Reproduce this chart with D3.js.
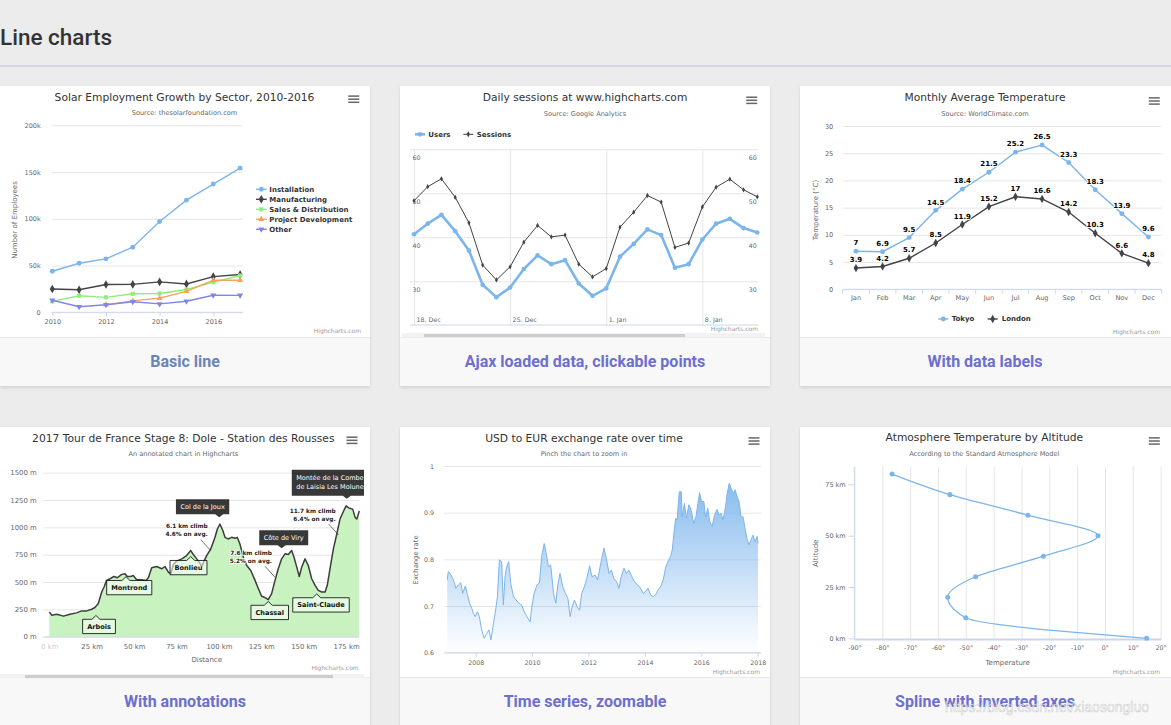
<!DOCTYPE html>
<html>
<head>
<meta charset="utf-8">
<title>Line charts</title>
<script src="https://cdn.jsdelivr.net/npm/d3@7"></script>
<style>
  body { margin: 0; background: #ececec; overflow: hidden; }
  svg { display: block; font-family: "DejaVu Sans", sans-serif; }
</style>
</head>
<body>
<svg id="page" width="1171" height="725"></svg>
<script>
// ---- basic line
const solarYears = [2010, 2011, 2012, 2013, 2014, 2015, 2016, 2017];
const sectorNames = ["Installation", "Manufacturing", "Sales & Distribution", "Project Development", "Other"];
const installation = [43934, 52503, 57177, 69658, 97031, 119931, 137133, 154175];
const manufacturing = [24916, 24064, 29742, 29851, 32490, 30282, 38121, 40434];
const salesDistribution = [11744, 17722, 16005, 19771, 20185, 24377, 32147, 39387];
const projectDevelopment = [null, null, 7988, 12169, 15112, 22452, 34400, 34227];
const otherSector = [12908, 5948, 8105, 11248, 8989, 11816, 18274, 18111];
const solarTicks = [0, 50000, 100000, 150000, 200000];
const solarYearTicks = [2010, 2012, 2014, 2016];

// ---- ajax loaded data
const sessionDates = ["2017-12-18", "2017-12-19", "2017-12-20", "2017-12-21", "2017-12-22", "2017-12-23",
  "2017-12-24", "2017-12-25", "2017-12-26", "2017-12-27", "2017-12-28", "2017-12-29", "2017-12-30",
  "2017-12-31", "2018-01-01", "2018-01-02", "2018-01-03", "2018-01-04", "2018-01-05", "2018-01-06",
  "2018-01-07", "2018-01-08", "2018-01-09", "2018-01-10", "2018-01-11", "2018-01-12"];
const users = [40.7, 43.1, 45.1, 41.4, 37.0, 29.2, 26.4, 28.6, 32.8, 35.9, 33.9, 34.8, 29.5,
  26.7, 28.4, 35.6, 38.5, 41.8, 40.5, 33.1, 33.9, 39.5, 43.1, 44.2, 42.1, 41.1];
const sessions = [48.3, 51.5, 53.3, 49.1, 43.3, 33.7, 30.3, 33.3, 38.9, 42.7, 40.1, 40.5, 33.9,
  31.0, 32.9, 42.3, 45.7, 49.5, 48.0, 37.7, 38.7, 46.9, 51.4, 53.2, 50.8, 49.2];
const sessionTicks = [30, 40, 50, 60];
const weekTicks = ["2017-12-18", "2017-12-25", "2018-01-01", "2018-01-08"];

// ---- with data labels
const months = ["Jan", "Feb", "Mar", "Apr", "May", "Jun", "Jul", "Aug", "Sep", "Oct", "Nov", "Dec"];
const tokyo = [7.0, 6.9, 9.5, 14.5, 18.4, 21.5, 25.2, 26.5, 23.3, 18.3, 13.9, 9.6];
const london = [3.9, 4.2, 5.7, 8.5, 11.9, 15.2, 17.0, 16.6, 14.2, 10.3, 6.6, 4.8];
const tempTicks = [0, 5, 10, 15, 20, 25, 30];

// ---- with annotations
const stageKm = [0, 1.4, 4.4, 8.3, 12.2, 16.1, 19.1, 22.0, 25.0, 26.9, 28.9, 30.9, 32.3, 33.8, 35.8,
  38.1, 40.1, 42.7, 44.6, 46.0, 48.0, 49.5, 51.5, 54.5, 57.0, 58.4, 60.4, 63.3, 66.3, 68.2, 70.2,
  71.6, 73.1, 75.1, 78.1, 81.0, 83.4, 84.9, 86.9, 88.4, 89.9, 91.2, 92.8, 95.2, 97.7, 99.1, 100.6,
  102.2, 103.6, 105.5, 107.5, 109.5, 110.8, 112.4, 114.4, 116.4, 118.8, 121.3, 123.3, 125.2, 127.2,
  129.1, 131.1, 133.1, 135.0, 137.0, 139.0, 140.9, 142.9, 144.3, 145.9, 147.4, 148.8, 150.8, 152.7,
  154.7, 156.7, 158.6, 160.6, 162.6, 163.9, 165.5, 167.5, 169.5, 171.4, 173.4, 175.0, 176.9, 178.9,
  180.3, 181.3, 182.8];
const stageElevation = [227, 197, 206, 188, 206, 218, 236, 236, 251, 267, 303, 409, 455, 515, 530,
  551, 539, 570, 576, 551, 551, 560, 521, 521, 515, 539, 630, 642, 621, 642, 591, 576, 661, 691,
  712, 742, 788, 752, 712, 682, 642, 691, 742, 803, 909, 985, 1030, 976, 909, 894, 909, 900, 909,
  848, 727, 651, 606, 515, 439, 370, 358, 339, 394, 515, 621, 712, 758, 752, 788, 727, 636, 551,
  636, 712, 651, 530, 470, 424, 409, 409, 470, 621, 803, 939, 1076, 1145, 1197, 1175, 1167, 1091,
  1076, 1151];
const elevationTicks = [0, 250, 500, 750, 1000, 1250, 1500];
const distanceTicks = [0, 25, 50, 75, 100, 125, 150, 175];
const townNames = ["Arbois", "Montrond", "Bonlieu", "Chassal", "Saint-Claude"];
const townKm = [27.5, 45.2, 83.4, 129.1, 157.7];
const townElevation = [194, 549, 732, 322, 391];
const peakNames = [["Col de la Joux"], ["Côte de Viry"], ["Montée de la Combe", "de Laisia Les Molunes"]];
const peakKm = [100.2, 137.0, 175.4];
const peakElevation = [1092, 809, 1262];
const climbTexts = [["6.1 km climb", "4.6% on avg."], ["7.6 km climb", "5.2% on avg."], ["11.7 km climb", "6.4% on avg."]];
const climbKm = [95.2, 133.1, 170.6];
const climbElevation = [787, 543, 930];

// ---- time series, zoomable
const fxYear = [2006.99, 2007.03, 2007.09, 2007.21, 2007.30, 2007.38, 2007.47, 2007.54, 2007.63, 2007.70,
  2007.78, 2007.86, 2007.92, 2007.98, 2008.06, 2008.13, 2008.21, 2008.30, 2008.39, 2008.47, 2008.54,
  2008.63, 2008.69, 2008.77, 2008.84, 2008.92, 2008.98, 2009.04, 2009.10, 2009.17, 2009.24, 2009.34,
  2009.43, 2009.53, 2009.63, 2009.75, 2009.85, 2009.93, 2009.99, 2010.07, 2010.17, 2010.26, 2010.34,
  2010.43, 2010.50, 2010.58, 2010.66, 2010.76, 2010.84, 2010.91, 2010.99, 2011.09, 2011.18, 2011.27,
  2011.35, 2011.42, 2011.50, 2011.59, 2011.68, 2011.76, 2011.85, 2011.94, 2012.04, 2012.12, 2012.24,
  2012.32, 2012.41, 2012.55, 2012.64, 2012.73, 2012.81, 2012.90, 2013.00, 2013.08, 2013.16, 2013.26,
  2013.35, 2013.43, 2013.52, 2013.59, 2013.67, 2013.75, 2013.85, 2013.94, 2014.02, 2014.11, 2014.20,
  2014.29, 2014.38, 2014.46, 2014.55, 2014.65, 2014.73, 2014.81, 2014.91, 2014.97, 2015.03, 2015.09,
  2015.14, 2015.22, 2015.29, 2015.32, 2015.40, 2015.47, 2015.56, 2015.64, 2015.73, 2015.81, 2015.88,
  2015.94, 2016.01, 2016.09, 2016.15, 2016.23, 2016.30, 2016.38, 2016.47, 2016.56, 2016.63, 2016.70,
  2016.77, 2016.86, 2016.91, 2016.99, 2017.06, 2017.13, 2017.20, 2017.27, 2017.34, 2017.41, 2017.48,
  2017.56, 2017.62, 2017.69, 2017.76, 2017.83, 2017.91, 2017.98, 2018.01];
const fxRate = [0.756, 0.774, 0.770, 0.756, 0.738, 0.745, 0.750, 0.727, 0.743, 0.727,
  0.706, 0.695, 0.684, 0.677, 0.688, 0.677, 0.649, 0.631, 0.641, 0.649, 0.627,
  0.663, 0.684, 0.720, 0.799, 0.795, 0.702, 0.763, 0.784, 0.795, 0.749, 0.720,
  0.713, 0.706, 0.702, 0.684, 0.674, 0.666, 0.699, 0.727, 0.745, 0.749, 0.806,
  0.834, 0.813, 0.784, 0.788, 0.727, 0.706, 0.745, 0.770, 0.741, 0.727, 0.716,
  0.677, 0.699, 0.713, 0.699, 0.691, 0.727, 0.741, 0.759, 0.786, 0.763, 0.766,
  0.756, 0.784, 0.824, 0.799, 0.770, 0.777, 0.759, 0.752, 0.738, 0.763, 0.781,
  0.770, 0.777, 0.766, 0.756, 0.749, 0.745, 0.738, 0.727, 0.731, 0.738, 0.724,
  0.720, 0.724, 0.734, 0.741, 0.756, 0.781, 0.795, 0.806, 0.820, 0.856, 0.888,
  0.884, 0.945, 0.945, 0.891, 0.920, 0.888, 0.917, 0.906, 0.877, 0.891, 0.920,
  0.943, 0.924, 0.924, 0.891, 0.909, 0.881, 0.870, 0.895, 0.907, 0.895, 0.899,
  0.884, 0.913, 0.938, 0.963, 0.952, 0.941, 0.949, 0.934, 0.924, 0.891, 0.891,
  0.863, 0.845, 0.831, 0.841, 0.852, 0.838, 0.849, 0.834];
const fxTicks = [0.6, 0.7, 0.8, 0.9, 1];
const fxYearTicks = [2008, 2010, 2012, 2014, 2016, 2018];

// ---- spline with inverted axes
const altitudes = [0, 10, 20, 30, 40, 50, 60, 70, 80];
const airTemps = [15, -50, -56.5, -46.5, -22.1, -2.5, -27.7, -55.7, -76.5];
const altitudeTicks = [0, 25, 50, 75];
const airTempTicks = [-90, -80, -70, -60, -50, -40, -30, -20, -10, 0, 10, 20];

const cardLabels = ["Basic line", "Ajax loaded data, clickable points", "With data labels",
  "With annotations", "Time series, zoomable", "Spline with inverted axes"];

const hcColors = ["#7cb5ec", "#434348", "#90ed7d", "#f7a35c", "#8085e9"];

var page = d3.select("#page");
var defs = page.append("defs");

defs.append("filter").attr("id", "cardShadow")
    .attr("x", "-5%").attr("y", "-5%").attr("width", "110%").attr("height", "115%")
  .append("feDropShadow")
    .attr("dx", 0).attr("dy", 1.5).attr("stdDeviation", 1.8)
    .attr("flood-color", "#000").attr("flood-opacity", 0.13);

function txt(g, x, y, s, size, fill, anchor, weight) {
  return g.append("text")
      .attr("x", x).attr("y", y).attr("dy", "0.35em")
      .attr("font-size", size).attr("fill", fill)
      .attr("text-anchor", anchor || "start")
      .attr("font-weight", weight || "normal")
      .text(s);
}

function heading(cx, cy, title, subtitle) {
  txt(page, cx, cy, title, 10.7, "#333", "middle");
  txt(page, cx, cy + 15.5, subtitle, 6.6, "#666", "middle");
}

function menu(cx, cy) {
  [-3.1, 0, 3.1].forEach(function(o) {
    page.append("line")
        .attr("x1", cx - 5.5).attr("x2", cx + 5.5)
        .attr("y1", cy + o).attr("y2", cy + o)
        .attr("stroke", "#666").attr("stroke-width", 1.5);
  });
}

function credit(xr, cy) {
  txt(page, xr, cy, "Highcharts.com", 6, "#999", "end");
}

function styleAxis(g, size) {
  g.attr("font-family", "DejaVu Sans, sans-serif").attr("font-size", size);
  g.selectAll(".tick text").attr("fill", "#666");
  g.select(".domain").remove();
}

function marker(g, type, x, y, size, color, flip) {
  g.append("path")
      .attr("d", d3.symbol().type(type).size(size)())
      .attr("transform", "translate(" + x + "," + y + ")" + (flip ? " rotate(180)" : ""))
      .attr("fill", color);
}

function hline(g, x0, x1, y, color, w) {
  g.append("line").attr("x1", x0).attr("x2", x1).attr("y1", y).attr("y2", y)
      .attr("stroke", color).attr("stroke-width", w || 1);
}

// ---- page header and cards
page.append("text")
    .attr("x", 0).attr("y", 45)
    .attr("font-family", "Roboto").attr("font-weight", 500).attr("font-size", 22.5)
    .attr("fill", "#333")
    .text("Line charts");
page.append("rect").attr("x", 0).attr("y", 65).attr("width", 1171).attr("height", 2).attr("fill", "#d6d6e1");

const cardSpots = [[0, 86, 251], [400, 86, 251], [800, 86, 251], [0, 427, 250], [400, 427, 250], [800, 427, 250]];
cardSpots.forEach(function(c, i) {
  var w = i % 3 == 2 ? 390 : 370;
  var g = page.append("g").attr("filter", "url(#cardShadow)");
  g.append("rect").attr("x", c[0]).attr("y", c[1]).attr("width", w).attr("height", c[2] + 49).attr("fill", "#f8f8f8");
  g.append("rect").attr("x", c[0]).attr("y", c[1]).attr("width", w).attr("height", c[2]).attr("fill", "#fff");
  hline(page, c[0], c[0] + w, c[1] + c[2] + 0.5, "#e9e9e9");
  page.append("text")
      .attr("x", c[0] + 185).attr("y", c[1] + c[2] + 24.5).attr("dy", "0.35em")
      .attr("text-anchor", "middle")
      .attr("font-family", "Roboto").attr("font-weight", 700).attr("font-size", 16)
      .attr("fill", i == 0 ? "#6b84b6" : "#6c6fcf")
      .text(cardLabels[i]);
});

// ================= chart 1: basic line
var c1 = page.append("g");
const x1 = d3.scaleLinear().domain([2010, 2017]).range([52.3, 240.1]);
const y1 = d3.scaleLinear().domain([0, 200000]).range([312.3, 125.3]);

var grid1 = c1.append("g").attr("transform", "translate(51.7,0)")
    .call(d3.axisLeft(y1).tickValues(solarTicks)
        .tickFormat(function(d) { return d == 0 ? "0" : d / 1000 + "k"; })
        .tickSizeInner(-191).tickSizeOuter(0).tickPadding(11));
styleAxis(grid1, 6.5);
grid1.selectAll(".tick line").attr("stroke", "#e6e6e6");

var ax1 = c1.append("g").attr("transform", "translate(0,312.3)")
    .call(d3.axisBottom(x1).tickValues(solarYearTicks).tickFormat(d3.format("d"))
        .tickSizeInner(4).tickSizeOuter(0).tickPadding(3));
styleAxis(ax1, 6.5);
ax1.selectAll(".tick line").attr("stroke", "#ccd6eb");
hline(c1, 51.7, 242.7, 312.3, "#ccd6eb");

const solarSeries = [installation, manufacturing, salesDistribution, projectDevelopment, otherSector];
const solarSymbols = [d3.symbolCircle, d3.symbolDiamond, d3.symbolSquare, d3.symbolTriangle, d3.symbolTriangle];
const solarSizes = [19, 22, 17, 16, 16];

solarSeries.forEach(function(vals, k) {
  var line = d3.line()
      .defined(function(d) { return d != null; })
      .x(function(d, i) { return x1(solarYears[i]); })
      .y(function(d) { return y1(d); });
  c1.append("path").attr("d", line(vals))
      .attr("fill", "none").attr("stroke", hcColors[k]).attr("stroke-width", 1.4);
  vals.forEach(function(v, i) {
    if (v != null) marker(c1, solarSymbols[k], x1(solarYears[i]), y1(v), solarSizes[k], hcColors[k], k == 4);
  });
});

sectorNames.forEach(function(name, k) {
  var ly = 189.3 + k * 10;
  hline(c1, 256, 266.7, ly, hcColors[k], 1.4);
  marker(c1, solarSymbols[k], 261.3, ly, solarSizes[k], hcColors[k], k == 4);
  txt(c1, 269.3, ly, name, 7, "#333", "start", "bold");
});

c1.append("text")
    .attr("transform", "translate(15,220) rotate(-90)")
    .attr("dy", "0.35em").attr("text-anchor", "middle")
    .attr("font-size", 7).attr("fill", "#666")
    .text("Number of Employees");

heading(184.5, 96.9, "Solar Employment Growth by Sector, 2010-2016", "Source: thesolarfoundation.com");
menu(353.8, 99.2);
credit(361, 331);

// ================= chart 2: ajax loaded data
var c2 = page.append("g");
const parseDay = d3.utcParse("%Y-%m-%d");
const dayValues = sessionDates.map(parseDay);
const x2 = d3.scaleUtc().domain([dayValues[0], dayValues[dayValues.length - 1]]).range([414, 757.3]);
const y2 = d3.scaleLinear().domain([20, 60]).range([325.3, 149.3]);

var grid2 = c2.append("g").attr("transform", "translate(410,0)")
    .call(d3.axisLeft(y2).tickValues(sessionTicks).tickFormat("").tickSizeInner(-348.3).tickSizeOuter(0));
styleAxis(grid2, 6.3);
grid2.selectAll(".tick line").attr("stroke", "#e6e6e6");

var vgrid2 = c2.append("g").attr("transform", "translate(0,325.3)")
    .call(d3.axisBottom(x2).tickValues(weekTicks.map(parseDay)).tickFormat(d3.utcFormat("%-d. %b"))
        .tickSizeInner(-176).tickSizeOuter(0));
styleAxis(vgrid2, 6.3);
vgrid2.selectAll(".tick line").attr("stroke", "#e6e6e6");
vgrid2.selectAll(".tick text").attr("text-anchor", "start").attr("x", 2).attr("y", -6).attr("dy", "0.35em");
hline(c2, 410, 758.3, 325, "#ccd6eb");

var left2 = c2.append("g").attr("transform", "translate(410,0)")
    .call(d3.axisRight(y2).tickValues(sessionTicks.slice(0)).tickSize(0).tickPadding(2.6));
styleAxis(left2, 6.3);
left2.selectAll(".tick text").attr("y", 8);
var right2 = c2.append("g").attr("transform", "translate(757,0)")
    .call(d3.axisLeft(y2).tickValues(sessionTicks).tickSize(0).tickPadding(0.3));
styleAxis(right2, 6.3);
right2.selectAll(".tick text").attr("y", 8);

var line2 = d3.line()
    .x(function(d, i) { return x2(dayValues[i]); })
    .y(function(d) { return y2(d); });
c2.append("path").attr("d", line2(users))
    .attr("fill", "none").attr("stroke", hcColors[0]).attr("stroke-width", 2.6).attr("stroke-linejoin", "round");
users.forEach(function(v, i) { marker(c2, d3.symbolCircle, x2(dayValues[i]), y2(v), 17, hcColors[0]); });
c2.append("path").attr("d", line2(sessions))
    .attr("fill", "none").attr("stroke", hcColors[1]).attr("stroke-width", 1);
sessions.forEach(function(v, i) { marker(c2, d3.symbolDiamond, x2(dayValues[i]), y2(v), 8, hcColors[1]); });

hline(c2, 415, 425, 134.3, hcColors[0], 2.6);
marker(c2, d3.symbolCircle, 420, 134.3, 17, hcColors[0]);
txt(c2, 428.3, 134.3, "Users", 7, "#333", "start", "bold");
hline(c2, 463.3, 473.3, 134.3, hcColors[1], 1);
marker(c2, d3.symbolDiamond, 468.3, 134.3, 10, hcColors[1]);
txt(c2, 476.7, 134.3, "Sessions", 7, "#333", "start", "bold");

heading(585, 97.7, "Daily sessions at www.highcharts.com", "Source: Google Analytics");
menu(751.7, 100.3);
credit(758, 329);
c2.append("rect").attr("x", 402).attr("y", 333).attr("width", 363).attr("height", 4.5).attr("fill", "#f2f2f2");
c2.append("rect").attr("x", 424).attr("y", 334).attr("width", 261).attr("height", 3).attr("fill", "#cdcdcd");

// ================= chart 3: with data labels
var c3 = page.append("g");
const x3 = d3.scaleBand().domain(months).range([842.7, 1161.7]);
const y3 = d3.scaleLinear().domain([0, 30]).range([289.3, 126]);

var grid3 = c3.append("g").attr("transform", "translate(842.7,0)")
    .call(d3.axisLeft(y3).tickValues(tempTicks).tickSizeInner(-319).tickSizeOuter(0).tickPadding(9.4));
styleAxis(grid3, 6.6);
grid3.selectAll(".tick line").attr("stroke", "#e6e6e6");

var ax3 = c3.append("g").attr("transform", "translate(0,289.3)")
    .call(d3.axisBottom(x3).tickSize(0).tickPadding(6));
styleAxis(ax3, 6.6);
hline(c3, 842.7, 1161.7, 289.3, "#ccd6eb");
months.concat([null]).forEach(function(m) {
  var bx = m ? x3(m) : x3.range()[1];
  c3.append("line").attr("x1", bx).attr("x2", bx).attr("y1", 289.3).attr("y2", 293.6).attr("stroke", "#ccd6eb");
});

var line3 = d3.line()
    .x(function(d, i) { return x3(months[i]) + x3.bandwidth() / 2; })
    .y(function(d) { return y3(d); });
[[tokyo, d3.symbolCircle, 19], [london, d3.symbolDiamond, 20]].forEach(function(s, k) {
  c3.append("path").attr("d", line3(s[0]))
      .attr("fill", "none").attr("stroke", hcColors[k]).attr("stroke-width", 1.4);
  s[0].forEach(function(v, i) {
    var px = x3(months[i]) + x3.bandwidth() / 2;
    marker(c3, s[1], px, y3(v), s[2], hcColors[k]);
  });
});
[tokyo, london].forEach(function(vals) {
  vals.forEach(function(v, i) {
    var px = x3(months[i]) + x3.bandwidth() / 2;
    txt(c3, px, y3(v) - 8.3, String(v), 7, "#000", "middle", "bold")
        .attr("stroke", "#fff").attr("stroke-width", 2).attr("paint-order", "stroke").attr("stroke-linejoin", "round");
  });
});

hline(c3, 938.3, 948.3, 319, hcColors[0], 1.4);
marker(c3, d3.symbolCircle, 943.3, 319, 19, hcColors[0]);
txt(c3, 951.7, 319, "Tokyo", 7, "#333", "start", "bold");
hline(c3, 987.7, 997.7, 319, hcColors[1], 1.4);
marker(c3, d3.symbolDiamond, 992.7, 319, 20, hcColors[1]);
txt(c3, 1001.7, 319, "London", 7, "#333", "start", "bold");

c3.append("text")
    .attr("transform", "translate(815.7,210) rotate(-90)")
    .attr("dy", "0.35em").attr("text-anchor", "middle")
    .attr("font-size", 7).attr("fill", "#666")
    .text("Temperature (°C)");

heading(985, 97.7, "Monthly Average Temperature", "Source: WorldClimate.com");
menu(1154.3, 101);
credit(1160, 331.7);

// ================= chart 4: with annotations
var c4 = page.append("g");
const x4 = d3.scaleLinear().domain([0, 175]).range([49.3, 346.1]);
const y4 = d3.scaleLinear().domain([0, 1500]).range([636.7, 472.7]);

defs.append("clipPath").attr("id", "clip4")
  .append("rect").attr("x", 43).attr("y", 460).attr("width", 321).attr("height", 180);

var grid4 = c4.append("g").attr("transform", "translate(43,0)")
    .call(d3.axisLeft(y4).tickValues(elevationTicks)
        .tickFormat(function(d) { return d + " m"; })
        .tickSizeInner(-316).tickSizeOuter(0).tickPadding(6.3));
styleAxis(grid4, 6.9);
grid4.selectAll(".tick line").attr("stroke", "#e6e6e6");

var ax4 = c4.append("g").attr("transform", "translate(0,636.7)")
    .call(d3.axisBottom(x4).tickValues(distanceTicks)
        .tickFormat(function(d) { return d + " km"; })
        .tickSize(0).tickPadding(7));
styleAxis(ax4, 6.9);
ax4.select(".tick text").attr("fill", "#ccc");

var plot4 = c4.append("g").attr("clip-path", "url(#clip4)");
var area4 = d3.area()
    .x(function(d, i) { return x4(stageKm[i]); })
    .y0(y4(0))
    .y1(function(d) { return y4(d); });
plot4.append("path").attr("d", area4(stageElevation)).attr("fill", "#c8f3c0");
plot4.append("path")
    .attr("d", d3.line().x(function(d, i) { return x4(stageKm[i]); }).y(function(d) { return y4(d); })(stageElevation))
    .attr("fill", "none").attr("stroke", "#3d3d3d").attr("stroke-width", 1.5).attr("stroke-linejoin", "round");
hline(c4, 43, 359, 637, "#ccd6eb");

function calloutPath(x0, y0, w, h, tx, ty, up) {
  var xe = x0 + w, ye = y0 + h;
  var px = Math.max(x0 + 5, Math.min(xe - 5, tx));
  if (up) return "M" + x0 + "," + y0 + "H" + (px - 4) + "L" + tx + "," + ty + "L" + (px + 4) + "," + y0 +
      "H" + xe + "V" + ye + "H" + x0 + "Z";
  return "M" + x0 + "," + y0 + "H" + xe + "V" + ye + "H" + (px + 4) + "L" + tx + "," + ty + "L" + (px - 4) + "," + ye +
      "H" + x0 + "Z";
}

// climb notes
climbTexts.forEach(function(lines, i) {
  var ax = x4(climbKm[i]), ay = y4(climbElevation[i]);
  plot4.append("line").attr("x1", ax - 10).attr("y1", ay - 11).attr("x2", ax).attr("y2", ay)
      .attr("stroke", "#333").attr("stroke-width", 0.7);
  lines.forEach(function(l, j) {
    txt(plot4, ax - 3, ay - 24.5 + j * 8, l, 5.8, "#222", "end", "bold")
        .attr("stroke", "#fff").attr("stroke-width", 1.6).attr("paint-order", "stroke");
  });
});

// towns
const townLeft = [-13.3, -19.3, -20.7, -17.3, -24];
townNames.forEach(function(name, i) {
  var tx = x4(townKm[i]), ty = y4(townElevation[i]);
  var g = plot4.append("g");
  var path = g.append("path");
  var t = txt(g, 0, ty + 3.8 + 7.2, name, 6.6, "#111", "middle", "bold");
  var w = t.node().getComputedTextLength() + 9;
  var x0 = tx + townLeft[i];
  t.attr("x", x0 + w / 2);
  path.attr("d", calloutPath(x0, ty + 3.8, w, 14.3, tx, ty, true))
      .attr("fill", "rgba(255,255,255,0.55)").attr("stroke", "#000").attr("stroke-width", 0.8);
});

// peaks
const peakLeft = [-43.3, -22.4, -55];
peakNames.forEach(function(lines, i) {
  var tx = x4(peakKm[i]), ty = y4(peakElevation[i]);
  var h = lines.length == 1 ? 15 : 26;
  var y0 = ty - 3 - h;
  var g = plot4.append("g");
  var path = g.append("path");
  var wmax = 0;
  var x0 = tx + peakLeft[i];
  lines.forEach(function(l, j) {
    var t = txt(g, x0 + 4.5, y0 + 7.5 + j * 9 + (lines.length > 1 ? 0.8 : 0), l, 6.5, "#fff", "start");
    wmax = Math.max(wmax, t.node().getComputedTextLength());
  });
  if (lines.length == 1) {
    g.selectAll("text").attr("x", x0 + (wmax + 9) / 2).attr("text-anchor", "middle");
  }
  path.attr("d", calloutPath(x0, y0, wmax + 9, h, tx, ty, false)).attr("fill", "rgba(0,0,0,0.78)");
});

c4.append("text")
    .attr("x", 206.7).attr("y", 659.3).attr("dy", "0.35em").attr("text-anchor", "middle")
    .attr("font-size", 7).attr("fill", "#666")
    .text("Distance");

heading(183.3, 438.3, "2017 Tour de France Stage 8: Dole - Station des Rousses", "An annotated chart in Highcharts");
menu(352, 440.3);
credit(358.7, 668.3);
c4.append("rect").attr("x", 0).attr("y", 674).attr("width", 364).attr("height", 4.5).attr("fill", "#f2f2f2");
c4.append("rect").attr("x", 25).attr("y", 675).attr("width", 308).attr("height", 3).attr("fill", "#cdcdcd");

// ================= chart 5: time series, zoomable
var c5 = page.append("g");
const x5 = d3.scaleLinear().domain([2008, 2018]).range([475.7, 757.7]);
const y5 = d3.scaleLinear().domain([0.6, 1.0]).range([652.7, 466]);

var grad = defs.append("linearGradient").attr("id", "fxFill")
    .attr("gradientUnits", "userSpaceOnUse")
    .attr("x1", 0).attr("y1", 466).attr("x2", 0).attr("y2", 652.7);
grad.append("stop").attr("offset", 0).attr("stop-color", hcColors[0]).attr("stop-opacity", 1);
grad.append("stop").attr("offset", 1).attr("stop-color", hcColors[0]).attr("stop-opacity", 0);

var grid5 = c5.append("g").attr("transform", "translate(444.3,0)")
    .call(d3.axisLeft(y5).tickValues(fxTicks)
        .tickFormat(function(d) { return d == 1 ? "1" : d3.format(".1f")(d); })
        .tickSizeInner(-316.7).tickSizeOuter(0).tickPadding(10.3));
styleAxis(grid5, 6.3);
grid5.selectAll(".tick line").attr("stroke", "#e6e6e6");

var ax5 = c5.append("g").attr("transform", "translate(0,652.7)")
    .call(d3.axisBottom(x5).tickValues(fxYearTicks).tickFormat(d3.format("d"))
        .tickSizeInner(4).tickSizeOuter(0).tickPadding(4));
styleAxis(ax5, 6.3);
ax5.selectAll(".tick line").attr("stroke", "#ccd6eb");

c5.append("path")
    .attr("d", d3.area().x(function(d, i) { return x5(fxYear[i]); }).y0(y5(0.6)).y1(function(d) { return y5(d); })(fxRate))
    .attr("fill", "url(#fxFill)");
c5.append("path")
    .attr("d", d3.line().x(function(d, i) { return x5(fxYear[i]); }).y(function(d) { return y5(d); })(fxRate))
    .attr("fill", "none").attr("stroke", hcColors[0]).attr("stroke-width", 1).attr("stroke-linejoin", "round");
hline(c5, 444.3, 761, 652.7, "#ccd6eb");

c5.append("text")
    .attr("transform", "translate(415.7,560) rotate(-90)")
    .attr("dy", "0.35em").attr("text-anchor", "middle")
    .attr("font-size", 6.8).attr("fill", "#666")
    .text("Exchange rate");

heading(584, 438.3, "USD to EUR exchange rate over time", "Pinch the chart to zoom in");
menu(754, 441);
credit(760, 671.7);

// ================= chart 6: spline with inverted axes
var c6 = page.append("g");
const x6 = d3.scaleLinear().domain([-90, 20]).range([854.5, 1160.6]);
const y6 = d3.scaleLinear().domain([0, 80]).range([638.3, 474.1]);

var grid6 = c6.append("g").attr("transform", "translate(0,639.5)")
    .call(d3.axisBottom(x6).tickValues(airTempTicks)
        .tickFormat(function(d) { return d + "°"; })
        .tickSizeInner(-172.8).tickSizeOuter(0).tickPadding(6.5));
styleAxis(grid6, 6.3);
grid6.selectAll(".tick line").attr("stroke", "#e6e6e6");
hline(c6, 854.3, 1161.5, 639.5, "#ccd6eb", 2);

var ax6 = c6.append("g").attr("transform", "translate(854.3,0)")
    .call(d3.axisLeft(y6).tickValues(altitudeTicks)
        .tickFormat(function(d) { return d + " km"; })
        .tickSizeInner(6).tickSizeOuter(0).tickPadding(2.6));
styleAxis(ax6, 6.5);
ax6.selectAll(".tick line").attr("stroke", "#ccd6eb");
c6.append("line").attr("x1", 854.3).attr("x2", 854.3).attr("y1", 466.7).attr("y2", 639)
    .attr("stroke", "#ccd6eb");

var airPoints = altitudes.map(function(a, i) { return [x6(airTemps[i]), y6(a)]; }).reverse();
c6.append("path")
    .attr("d", d3.line().curve(d3.curveMonotoneY)(airPoints))
    .attr("fill", "none").attr("stroke", hcColors[0]).attr("stroke-width", 1.3);
airPoints.forEach(function(p) { marker(c6, d3.symbolCircle, p[0], p[1], 20, hcColors[0]); });

c6.append("text")
    .attr("transform", "translate(815.7,553.3) rotate(-90)")
    .attr("dy", "0.35em").attr("text-anchor", "middle")
    .attr("font-size", 7).attr("fill", "#666")
    .text("Altitude");
txt(c6, 1007.7, 662.7, "Temperature", 7, "#666", "middle");

heading(984.3, 437.7, "Atmosphere Temperature by Altitude", "According to the Standard Atmosphere Model");
menu(1154.3, 441);
credit(1160, 671.7);

// watermark of the screenshot
page.append("text")
    .attr("x", 1047).attr("y", 707).attr("dy", "0.35em").attr("text-anchor", "middle")
    .attr("font-family", "Liberation Sans, Arial, sans-serif").attr("font-size", 14)
    .attr("fill", "rgba(255,255,255,0.8)").attr("stroke", "rgba(120,120,120,0.35)").attr("stroke-width", 0.6)
    .text("https://blog.csdn.net/xiaosongluo");
</script>
</body>
</html>
